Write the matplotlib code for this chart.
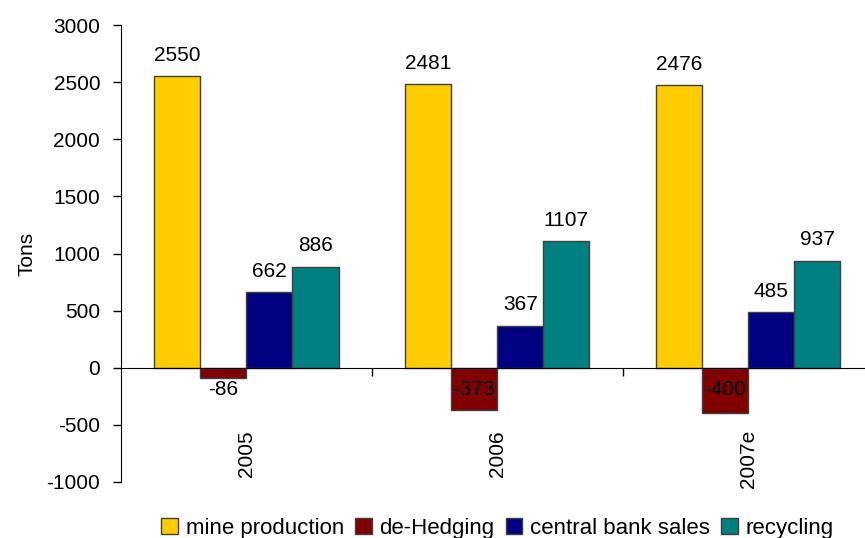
import numpy as np
import matplotlib
matplotlib.use("Agg")
import matplotlib.pyplot as plt

plt.rcParams['font.family'] = ['Liberation Sans', 'DejaVu Sans']
plt.rcParams['axes.unicode_minus'] = False

# Data
years = ['2005', '2006', '2007e']
series_names = ['mine production', 'de-Hedging', 'central bank sales', 'recycling']
mine_production = [2550, 2481, 2476]
de_hedging = [-86, -373, -400]
central_bank_sales = [662, 367, 485]
recycling = [886, 1107, 937]
colors = ['#FFCC00', '#800000', '#000080', '#008080']

values = [mine_production, de_hedging, central_bank_sales, recycling]

fig = plt.figure(figsize=(8.65, 5.38), dpi=100)
ax = fig.add_axes([0.1399, 0.1041, 0.870, 0.8494])

bar_w = 0.1835
start = 0.5 - 2 * bar_w
x = np.arange(len(years))
for i, (name, vals, col) in enumerate(zip(series_names, values, colors)):
    pos = x + start + bar_w * (i + 0.5)
    ax.bar(pos, vals, width=bar_w, color=col, edgecolor='#404040',
           linewidth=1.0, label=name, zorder=2)
    for p, v in zip(pos, vals):
        if v >= 0:
            ax.annotate(str(v), (p, v), xytext=(0, 15), textcoords='offset points',
                        ha='center', va='center', fontsize=15)
        else:
            ax.text(p, -190, str(v), ha='center', va='center', fontsize=15, zorder=3)

# category labels, rotated, below the zero line
for xi, yr in zip(x, years):
    ax.text(xi + 0.5, -545, yr, rotation=90, ha='center', va='top', fontsize=15)

ax.set_xlim(0, 3)
ax.set_ylim(-1000, 3000)
ax.set_yticks(np.arange(-1000, 3001, 500))
ax.set_xticks([1, 2])
ax.set_xticklabels([])
ax.spines['top'].set_visible(False)
ax.spines['right'].set_visible(False)
ax.spines['bottom'].set_position(('data', 0))
ax.spines['bottom'].set_zorder(4)
ax.tick_params(axis='y', length=6, width=1, pad=9, labelsize=15)
ax.tick_params(axis='x', length=6, width=1, direction='out')
ax.set_ylabel('Tons', fontsize=15, labelpad=7)

leg = fig.legend(loc='center', bbox_to_anchor=(0.575, 0.018), ncol=4, frameon=False,
                 fontsize=16, handlelength=0.75, handleheight=0.75, handletextpad=0.35,
                 columnspacing=0.5, borderaxespad=0)

fig.savefig('out.png', dpi=100)
